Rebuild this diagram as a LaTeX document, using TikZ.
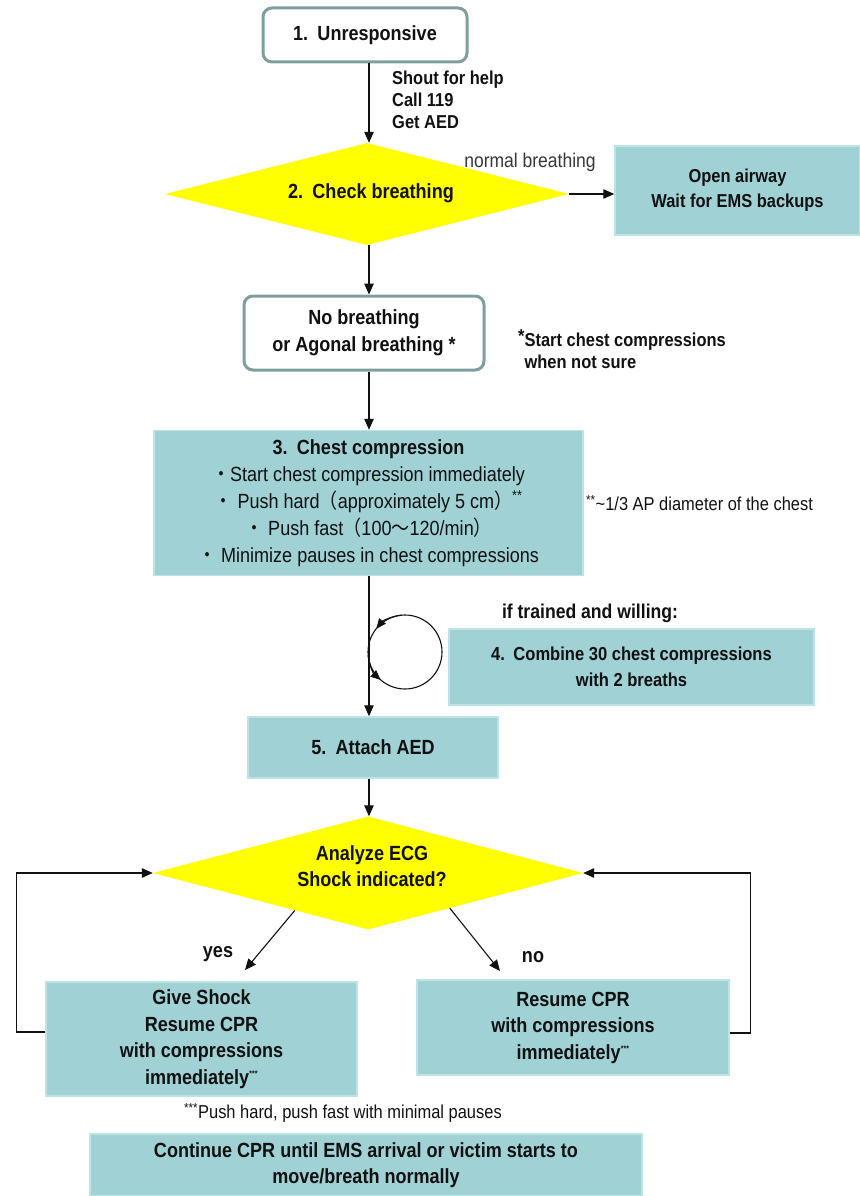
\documentclass[tikz,border=0pt]{standalone}
\usepackage{fontspec}
\setmainfont{Liberation Sans}[FakeStretch=0.88]
\newfontfamily\cjk{Noto Sans CJK JP}[FakeStretch=0.88]
\usetikzlibrary{shapes.geometric,arrows.meta,calc}
\definecolor{boxfill}{RGB}{160,209,213}
\definecolor{boxedge}{RGB}{188,228,231}
\definecolor{rndedge}{RGB}{127,158,158}
\definecolor{ylw}{RGB}{255,255,0}
\definecolor{ink}{RGB}{17,17,17}
\definecolor{softink}{RGB}{55,55,55}
\newcommand\StepNo[1]{#1\hspace{0.45em}}
\newcommand\bigbold{\fontsize{20.5}{26.5}\selectfont\bfseries}
\newcommand\smallbold{\fontsize{18.7}{22}\selectfont\bfseries}
\tikzset{
  every node/.style={text=ink},
  tealbox/.style={rectangle, fill=boxfill, draw=boxedge, line width=1.5pt, inner sep=0pt, align=center,
    font=\bigbold},
  rndbox/.style={rectangle, rounded corners=9pt, fill=white, draw=rndedge, line width=3pt, inner sep=0pt,
    align=center, font=\fontsize{20.5}{27}\selectfont\bfseries},
  decision/.style={diamond, fill=ylw, inner sep=0pt},
  dectext/.style={inner sep=0pt, align=center, font=\fontsize{20.5}{26}\selectfont\bfseries},
  note/.style={inner sep=0pt, align=left, font=\smallbold},
  plainnote/.style={inner sep=0pt, align=left, font=\fontsize{18.7}{22}\selectfont},
  arr/.style={-{Triangle[length=11pt,width=9.5pt]}, line width=1.1pt, draw=ink},
  carr/.style={-{Triangle[length=10pt,width=8.5pt]}, line width=1.1pt, draw=ink},
  wire/.style={line width=1.1pt, draw=ink},
}
\begin{document}
\begin{tikzpicture}[x=1pt,y=-1pt]
\useasboundingbox (0,0) rectangle (859,1196);
\coordinate (col) at (369,0);

% top part
\node[rndbox, minimum width=204pt, minimum height=54pt] (n1) at (365,35) {\StepNo{1.}Unresponsive};
\node[note, anchor=west] (shout) at (392,100) {Shout for help\\Call 119\\Get AED};
\node[decision, shape aspect=3.96, minimum width=404pt, minimum height=102pt] (d2) at (367,194) {};
\node[dectext] (d2t) at (371,193) {\StepNo{2.}Check breathing};
\node[plainnote, text=softink, font=\fontsize{19.9}{22}\selectfont] (nbl) at (530,162) {normal breathing};
\node[tealbox, font=\smallbold, minimum width=245pt, minimum height=89pt] (ems) at (737.5,190.5) {Open airway\\[3pt]Wait for EMS backups};

\node[rndbox, minimum width=240pt, minimum height=74pt] (n2) at (364,333) {No breathing\\or Agonal breathing *};
\node[note, anchor=west] (star) at (518,349) {\raisebox{0.35ex}{*}Start chest compressions\\\phantom{\raisebox{0.35ex}{*}}when not sure};

\node[tealbox, minimum width=429pt, minimum height=145pt, font=\fontsize{20.5}{27}\selectfont] (b3) at (368.5,503)
  {{\bfseries\StepNo{3.}Chest compression}\\
   {\cjk ・}Start chest compression immediately\\
   {\cjk ・} Push hard{\cjk （}approximately 5 cm{\cjk ）}\textsuperscript{**}\\
   {\cjk ・} Push fast{\cjk （}100{\cjk 〜}120/min{\cjk ）}\\
   {\cjk ・} Minimize pauses in chest compressions};
\node[plainnote, anchor=west] (apnote) at (586,503) {\textsuperscript{**}\textasciitilde1/3 AP diameter of the chest};

% loop and step 4
\node[note, font=\fontsize{20}{22}\selectfont\bfseries] (trained) at (590,613) {if trained and willing:};
\node[tealbox, font=\fontsize{18.8}{26}\selectfont\bfseries, minimum width=365pt, minimum height=76pt] (b4) at (631.5,667) {\StepNo{4.}Combine 30 chest compressions\\with 2 breaths};
\coordinate (cc) at (405,652);
\draw[wire] (cc) circle[radius=37];
\draw[carr] ([shift={(-95:37)}]cc) arc[start angle=-95, end angle=-141, radius=37];
\draw[carr] ([shift={(-185:37)}]cc) arc[start angle=-185, end angle=-229, radius=37];

\node[tealbox, minimum width=250pt, minimum height=61pt] (b5) at (373,747.5) {\StepNo{5.}Attach AED};

\node[decision, shape aspect=3.9, minimum width=430pt, minimum height=113pt] (d3) at (368,873) {};
\node[dectext] (d3t) at (372,866) {Analyze ECG\\Shock indicated?};

\node[tealbox, minimum width=311pt, minimum height=114pt] (gs) at (201.5,1039)
  {Give Shock\\Resume CPR\\with compressions\\immediately\textsuperscript{\footnotesize***}};
\node[tealbox, minimum width=312pt, minimum height=95pt] (rs) at (573,1027.5)
  {Resume CPR\\with compressions\\immediately\textsuperscript{\footnotesize***}};
\node[plainnote] (pnote) at (343,1113) {\textsuperscript{***}Push hard, push fast with minimal pauses};
\node[tealbox, minimum width=552pt, minimum height=62pt] (fin) at (366,1165)
  {Continue CPR until EMS arrival or victim starts to\\move/breath normally};

\node[note, font=\bigbold] (yes) at (218,954) {yes};
\node[note, font=\bigbold] (no) at (533,957) {no};
\coordinate (yesend) at (245,970);
\coordinate (noend) at (500,971);
\coordinate (yesstart) at ($(d3.south)!0.34!(d3.west)$);
\coordinate (nostart) at ($(d3.south)!0.38!(d3.east)$);

% connectors
\draw[arr] (n1.south -| col) -- (d2.north -| col);
\draw[arr] (d2.east) -- (ems.west |- d2.east);
\draw[arr] (d2.south -| col) -- (n2.north -| col);
\draw[arr] (n2.south -| col) -- (b3.north -| col);
\draw[arr] (b3.south -| col) -- (b5.north -| col);
\draw[arr] (b5.south -| col) -- (d3.north -| col);
\draw[arr] (yesstart) -- (yesend);
\draw[arr] (nostart) -- (noend);
\draw[arr] ([yshift=7pt]gs.west) -- ++(-29,0) |- (d3.west);
\draw[arr] ([yshift=-5.5pt]rs.east) -- ++(21,0) |- (d3.east);
\end{tikzpicture}
\end{document}
